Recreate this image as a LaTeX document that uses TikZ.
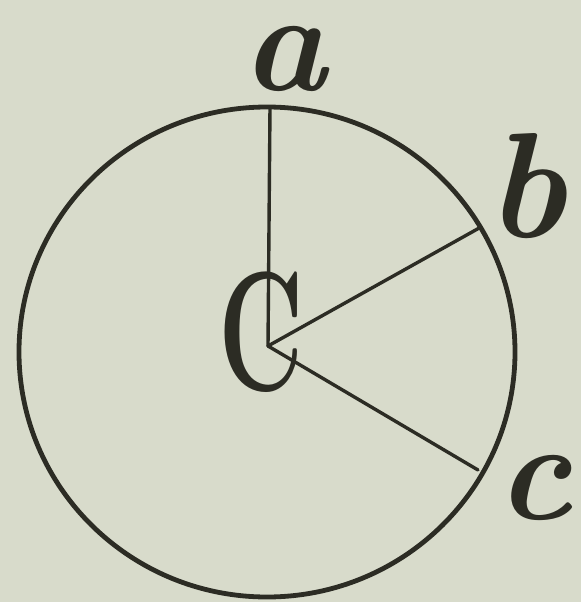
\documentclass[tikz,border=0pt]{standalone}
\begin{document}
\begin{tikzpicture}[x=1pt,y=-1pt,
  ink/.style={draw=inkc, line cap=round},
  lbl/.style={text=inkc, inner sep=0pt, anchor=base, font=\fontsize{142}{142}\selectfont\bfseries\itshape}]
\definecolor{bgc}{HTML}{D8DBCB}
\definecolor{inkc}{HTML}{2C2C24}
\fill[bgc] (0,0) rectangle (581,602);
\useasboundingbox (0,0) rectangle (581,602);
\coordinate (O) at (268,346);
\coordinate (M) at (267,352);
\coordinate (A) at (270,107);
\coordinate (B) at (481,227);
\coordinate (Cc) at (478,470);
\draw[ink, line width=4.8pt] (M) ellipse [x radius=248, y radius=245];
\draw[ink, line width=3.4pt] (O) -- (A);
\draw[ink, line width=3.4pt] (O) -- (B);
\draw[ink, line width=3.4pt] (O) -- (Cc);
\node[lbl, text height=62pt, text depth=0pt] (la) at (284,90) {a};
\node[lbl, text height=105pt, text depth=0pt, font=\fontsize{150}{150}\selectfont\bfseries\itshape] (lb) at (526,237) {b};
\node[lbl, text height=62pt, text depth=0pt] (lc) at (534,519) {c};
\node[text=inkc, inner sep=0pt, anchor=base, xscale=0.62, font=\fontsize{170}{170}\selectfont\bfseries] (lC) at (261,390) {C};
\end{tikzpicture}
\end{document}
